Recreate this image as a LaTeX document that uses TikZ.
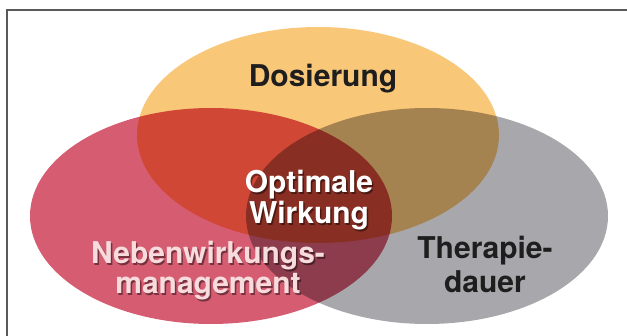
\documentclass[tikz,border=0pt]{standalone}
\usepackage{fontspec}
\setmainfont{TeX Gyre Heros}
\usepackage{tikz}
\usetikzlibrary{shapes.geometric}
\definecolor{dosorange}{HTML}{F9C778}
\definecolor{nebenred}{HTML}{D65C72}
\definecolor{theragray}{HTML}{A8A8AC}
\definecolor{nebentext}{HTML}{F8DCDD}
\definecolor{darktext}{HTML}{1E1E1E}
\definecolor{framegray}{HTML}{5A5A5A}
\tikzstyle{set}=[ellipse, inner sep=0pt, minimum width=181pt, minimum height=108pt, blend mode=multiply]
\tikzstyle{lbl}=[font=\fontsize{15pt}{15pt}\selectfont\bfseries, align=center, inner sep=0pt, anchor=north]
\tikzstyle{lblshadow}=[lbl, text=black, text opacity=0.45]

\begin{document}
\begin{tikzpicture}[x=0.5pt, y=-0.5pt]
        \clip (0, 0) rectangle (627, 336);
        \fill[white] (0, 0) rectangle (627, 336);
        \draw[framegray, line width=0.75pt] (7, 10) rectangle (660, 360);
        % the three sets
        \node[set, fill=dosorange]  (dos)    at (318, 135) {};
        \node[set, fill=nebenred]   (neben)  at (211, 216) {};
        \node[set, fill=theragray]  (thera)  at (427, 216) {};
        % labels
        \node[lbl, text=darktext, anchor=base] (dosL) at (323, 87) {Dosierung};
        \node[lblshadow, font=\fontsize{15pt}{14pt}\selectfont\bfseries] (optS) at (310.5, 171.5) {Optimale\\Wirkung};
        \node[lbl, text=white, font=\fontsize{15pt}{14pt}\selectfont\bfseries] (opt) at (309, 170) {Optimale\\Wirkung};
        \node[lblshadow] (nebenS) at (209.5, 242.5) {Nebenwirkungs-\\management};
        \node[lbl, text=nebentext] (nebenL) at (208, 241) {Nebenwirkungs-\\management};
        \node[lbl, text=darktext, font=\fontsize{15pt}{17pt}\selectfont\bfseries] (theraL) at (485, 236) {Therapie-\\dauer};
    \end{tikzpicture}
\end{document}
